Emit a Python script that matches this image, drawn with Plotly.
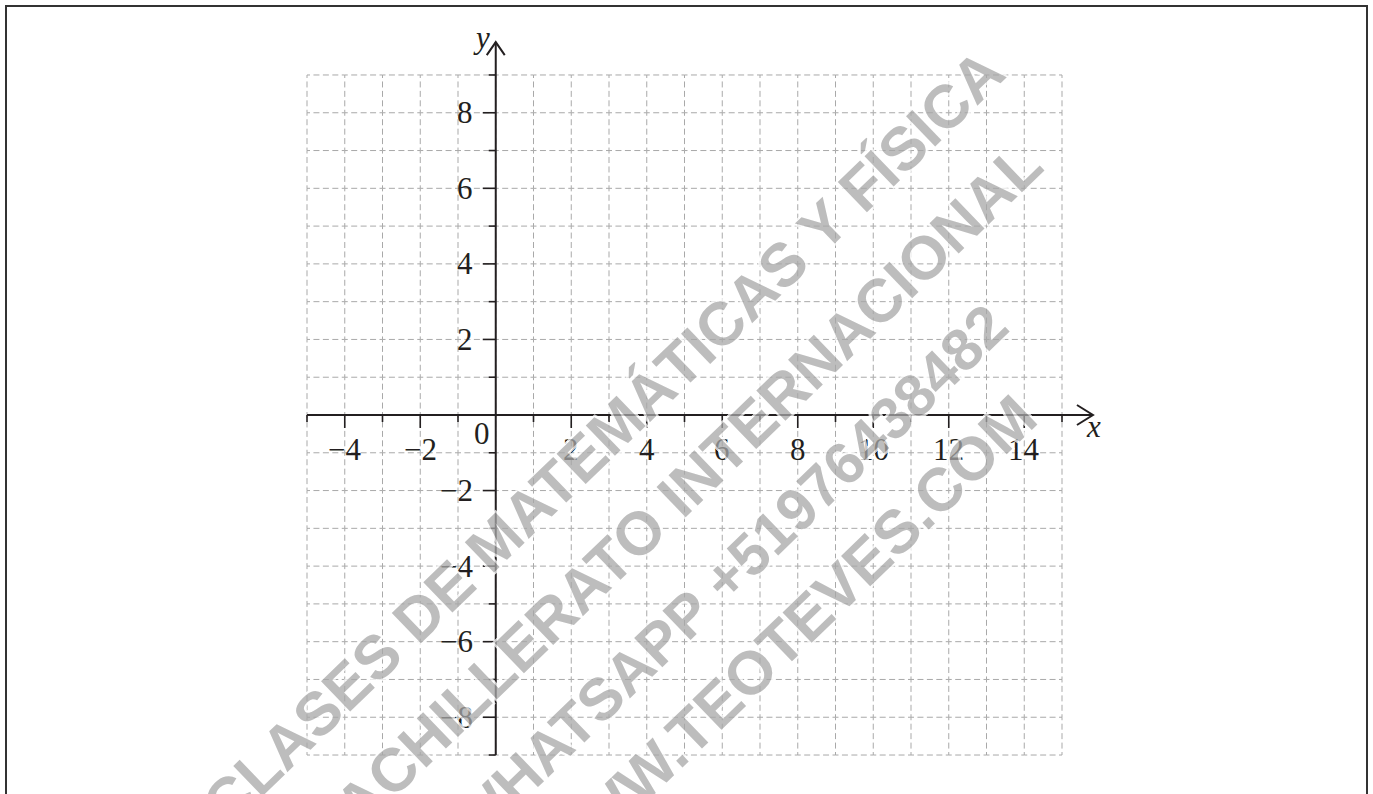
import plotly.graph_objects as go

# ---------------- data ----------------
x_grid_min, x_grid_max = -5, 15
y_grid_min, y_grid_max = -9, 9
x_tick_values = [-4, -2, 2, 4, 6, 8, 10, 12, 14]
x_tick_labels = ["−4", "−2", "2", "4", "6", "8", "10", "12", "14"]
y_tick_values = [8, 6, 4, 2, -2, -4, -6, -8]
y_tick_labels = ["8", "6", "4", "2", "−2", "−4", "−6", "−8"]
origin_label = "0"
x_axis_title = "x"
y_axis_title = "y"
x_axis_end = 15.82
y_axis_end = 9.87
watermark_lines = [
    "CLASES DE MATEMÁTICAS Y FÍSICA",
    "BACHILLERATO INTERNACIONAL",
    "WHATSAPP +51976438482",
    "WWW.TEOTEVES.COM",
]

# ---------------- layout constants ----------------
W, H = 1373, 794
UX, UY = 37.75, 37.78          # px per unit
X0_PX, Y0_PX = 307 + 5 * UX, 415  # pixel of origin
x_range = [-X0_PX / UX, (W - X0_PX) / UX]
y_range = [-(H - Y0_PX) / UY, Y0_PX / UY]

AXIS_COLOR = "#231f20"
GRID_COLOR = "#a9a9a9"
MAJOR, MINOR = 13, 7  # tick lengths px

fig = go.Figure()

# grid (segment per cell so the dashes form crosses at intersections)
dash = "3px,3.44px,6px,3.44px,6px,3.44px,6px,3.44px,3px"
vx, vy = [], []
for gx in range(x_grid_min, x_grid_max + 1):
    for gy in range(y_grid_min, y_grid_max):
        vx += [gx, gx, None]
        vy += [gy, gy + 1, None]
hx, hy = [], []
for gy in range(y_grid_min, y_grid_max + 1):
    for gx in range(x_grid_min, x_grid_max):
        hx += [gx, gx + 1, None]
        hy += [gy, gy, None]
for xs, ys in ((vx, vy), (hx, hy)):
    fig.add_trace(go.Scatter(x=xs, y=ys, mode="lines", hoverinfo="skip",
                             line=dict(color=GRID_COLOR, width=1, dash=dash),
                             showlegend=False))

# ticks
tx, ty = [], []
for k in range(x_grid_min, x_grid_max + 1):
    if k == 0:
        continue
    L = (MAJOR if k % 2 == 0 else MINOR) / UY
    tx += [k, k, None]
    ty += [0, -L, None]
for k in range(y_grid_min, y_grid_max + 1):
    if k == 0:
        continue
    L = (MAJOR if k % 2 == 0 else MINOR) / UX
    tx += [0, -L, None]
    ty += [k, k, None]
fig.add_trace(go.Scatter(x=tx, y=ty, mode="lines", hoverinfo="skip",
                         line=dict(color=AXIS_COLOR, width=1.6), showlegend=False))

# axes with open arrowheads
ax_x = [x_grid_min, x_axis_end, None, 0, 0]
ax_y = [0, 0, None, y_grid_min, y_axis_end]
ahx = [x_axis_end - 16 / UX, x_axis_end, x_axis_end - 16 / UX, None,
       -9 / UX, 0, 9 / UX]
ahy = [10 / UY, 0, -10 / UY, None,
       y_axis_end - 13 / UY, y_axis_end, y_axis_end - 13 / UY]
fig.add_trace(go.Scatter(x=ax_x + [None] + ahx, y=ax_y + [None] + ahy, mode="lines",
                         hoverinfo="skip", line=dict(color=AXIS_COLOR, width=2),
                         showlegend=False))

tick_font = dict(family="Liberation Serif, Times New Roman, serif", size=31,
                 color=AXIS_COLOR)
ann = []
for v, t in zip(x_tick_values, x_tick_labels):
    ann.append(dict(x=v, y=-0.92, text=t, showarrow=False, xanchor="center",
                    yanchor="middle", font=tick_font))
for v, t in zip(y_tick_values, y_tick_labels):
    ann.append(dict(x=-0.55, y=v, text=t, showarrow=False, xanchor="right",
                    yanchor="middle", font=tick_font))
ann.append(dict(x=-0.36, y=-0.48, text=origin_label, showarrow=False,
                xanchor="center", yanchor="middle", font=tick_font))
ann.append(dict(x=-0.39, y=9.98, text=f"<i>{y_axis_title}</i>", showarrow=False,
                xanchor="center", yanchor="middle", font=tick_font))
ann.append(dict(x=15.84, y=-0.3, text=f"<i>{x_axis_title}</i>", showarrow=False,
                xanchor="center", yanchor="middle", font=tick_font))

# watermark
wm_centers_px = [(603, 438), (672, 501), (730, 574), (784, 640)]
wm_sizes = [61, 61, 59, 61]
halo = ",".join(f"{a}px {b}px 0 #fff" for a, b in
                [(-2, -2), (2, -2), (-2, 2), (2, 2), (0, 2), (2, 0), (0, -2), (-2, 0)])
for txt, (cx, cy), sz in zip(watermark_lines, wm_centers_px, wm_sizes):
    ann.append(dict(xref="paper", yref="paper", x=cx / W, y=1 - cy / H, text=txt,
                    showarrow=False, xanchor="center", yanchor="middle",
                    textangle=-44, opacity=0.75,
                    font=dict(family="Liberation Sans", size=sz, weight="bold",
                              color="#a8a8a8", shadow=halo)))

fig.update_layout(
    width=W, height=H, margin=dict(l=0, r=0, t=0, b=0),
    paper_bgcolor="white", plot_bgcolor="white",
    xaxis=dict(range=x_range, visible=False, fixedrange=True),
    yaxis=dict(range=y_range, visible=False, fixedrange=True),
    annotations=ann,
    shapes=[dict(type="rect", xref="paper", yref="paper",
                 x0=6 / W, x1=1367 / W, y0=-0.05, y1=1 - 6 / H,
                 line=dict(color="#333333", width=2))],
    showlegend=False,
)

fig.write_html("out.html", config={"displayModeBar": False},
               post_script="document.body.style.margin='0';document.body.style.overflow='hidden';")
